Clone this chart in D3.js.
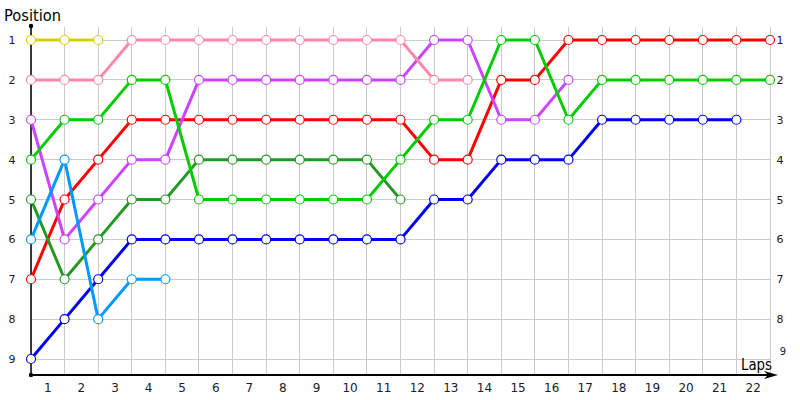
<!DOCTYPE html>
<html><head><meta charset="utf-8">
<script src="https://cdn.jsdelivr.net/npm/d3@7"></script>
<style>body{margin:0;background:#fff}svg{display:block}text{font-family:Tahoma,"DejaVu Sans",sans-serif}</style>
</head><body>
<svg id="c" width="800" height="400"></svg>
<script>
const lapLabels = d3.range(1, 23);
const positions = d3.range(1, 10);
const seriesNames = ["red","purple","pink","darkgreen","green","blue","lightblue","yellow"];
const seriesColors = ["#ff0000","#cc44ff","#ff88aa","#229922","#00cc00","#0000ee","#0099ff","#d4d400"];
// positions indexed by lap 0..22
const red       = [7,5,4,3,3,3,3,3,3,3,3,3,4,4,2,2,1,1,1,1,1,1,1];
const purple    = [3,6,5,4,4,2,2,2,2,2,2,2,1,1,3,3,2];
const pink      = [2,2,2,1,1,1,1,1,1,1,1,1,2,2];
const darkgreen = [5,7,6,5,5,4,4,4,4,4,4,5];
const green     = [4,3,3,2,2,5,5,5,5,5,5,4,3,3,1,1,3,2,2,2,2,2,2];
const blue      = [9,8,7,6,6,6,6,6,6,6,6,6,5,5,4,4,4,3,3,3,3,3];
const lightblue = [6,4,8,7,7];
const yellow    = [1,1,1];
const seriesData = [red,purple,pink,darkgreen,green,blue,lightblue,yellow];

const svg = d3.select("#c");
const x = d3.scaleLinear().domain([0, 22]).range([31, 770]);
const y = d3.scaleLinear().domain([1, 9]).range([40, 359]);
const axisY = 375, topY = 26;

// grid
const g = svg.append("g");
g.selectAll("line.v").data(d3.range(0, 23)).join("line")
  .attr("x1", d => x(d)).attr("x2", d => x(d)).attr("y1", 27).attr("y2", axisY)
  .attr("stroke", "#cccccc").attr("stroke-width", 1).attr("shape-rendering","crispEdges");
g.selectAll("line.h").data(positions).join("line")
  .attr("x1", x(0)).attr("x2", x(22)).attr("y1", d => y(d)).attr("y2", d => y(d))
  .attr("stroke", "#cccccc").attr("stroke-width", 1).attr("shape-rendering","crispEdges");

// axes
svg.append("line").attr("x1", x(0)).attr("x2", 772).attr("y1", axisY).attr("y2", axisY)
  .attr("stroke", "#000").attr("stroke-width", 2).attr("shape-rendering","crispEdges");
svg.append("path").attr("d", `M778,${axisY} L764,${axisY-4} L768,${axisY} L764,${axisY+4} Z`).attr("fill", "#000");
svg.append("line").attr("x1", x(0)).attr("x2", x(0)).attr("y1", topY).attr("y2", axisY)
  .attr("stroke", "#000").attr("stroke-width", 1.5);
svg.append("circle").attr("cx", x(0)).attr("cy", topY).attr("r", 2.2).attr("fill", "#000");
svg.append("circle").attr("cx", x(0)).attr("cy", axisY).attr("r", 2.2).attr("fill", "#000");

// tick labels
svg.selectAll("text.xl").data(lapLabels).join("text")
  .attr("x", d => x(d - 0.5)).attr("y", 392).attr("text-anchor", "middle")
  .attr("font-size", 12).attr("fill", "#1a1a2a").text(d => d);
svg.selectAll("text.yl").data(positions).join("text")
  .attr("x", 12).attr("y", d => y(d) + 4).attr("text-anchor", "middle")
  .attr("font-size", 11).attr("fill", "#1a1a2a").text(d => d);
svg.selectAll("text.yr").data(positions).join("text")
  .attr("x", d => d === 9 ? 783 : 780).attr("y", d => Math.min(y(d) + 4, 355)).attr("text-anchor", "middle")
  .attr("font-size", d => d === 9 ? 10 : 11).attr("fill", "#1a1a2a").text(d => d);

svg.append("text").attr("x", 4).attr("y", 21).attr("font-size", 16).attr("fill", "#000")
  .attr("textLength", 57).attr("lengthAdjust", "spacingAndGlyphs").text("Position");
svg.append("text").attr("x", 741).attr("y", 370).attr("font-size", 16).attr("fill", "#000")
  .attr("textLength", 31).attr("lengthAdjust", "spacingAndGlyphs").text("Laps");

// series
const line = d3.line().x((d, i) => x(i)).y(d => y(d));
seriesData.forEach((arr, k) => {
  const col = seriesColors[k];
  svg.append("path").datum(arr).attr("d", line).attr("fill", "none")
    .attr("stroke", col).attr("stroke-width", 3).attr("stroke-linejoin", "round");
});
seriesData.forEach((arr, k) => {
  const col = seriesColors[k];
  svg.append("g").selectAll("circle").data(arr).join("circle")
    .attr("cx", (d, i) => x(i)).attr("cy", d => y(d)).attr("r", 4.5)
    .attr("fill", "#fff").attr("stroke", col).attr("stroke-width", 1.2);
});
</script>
</body></html>
